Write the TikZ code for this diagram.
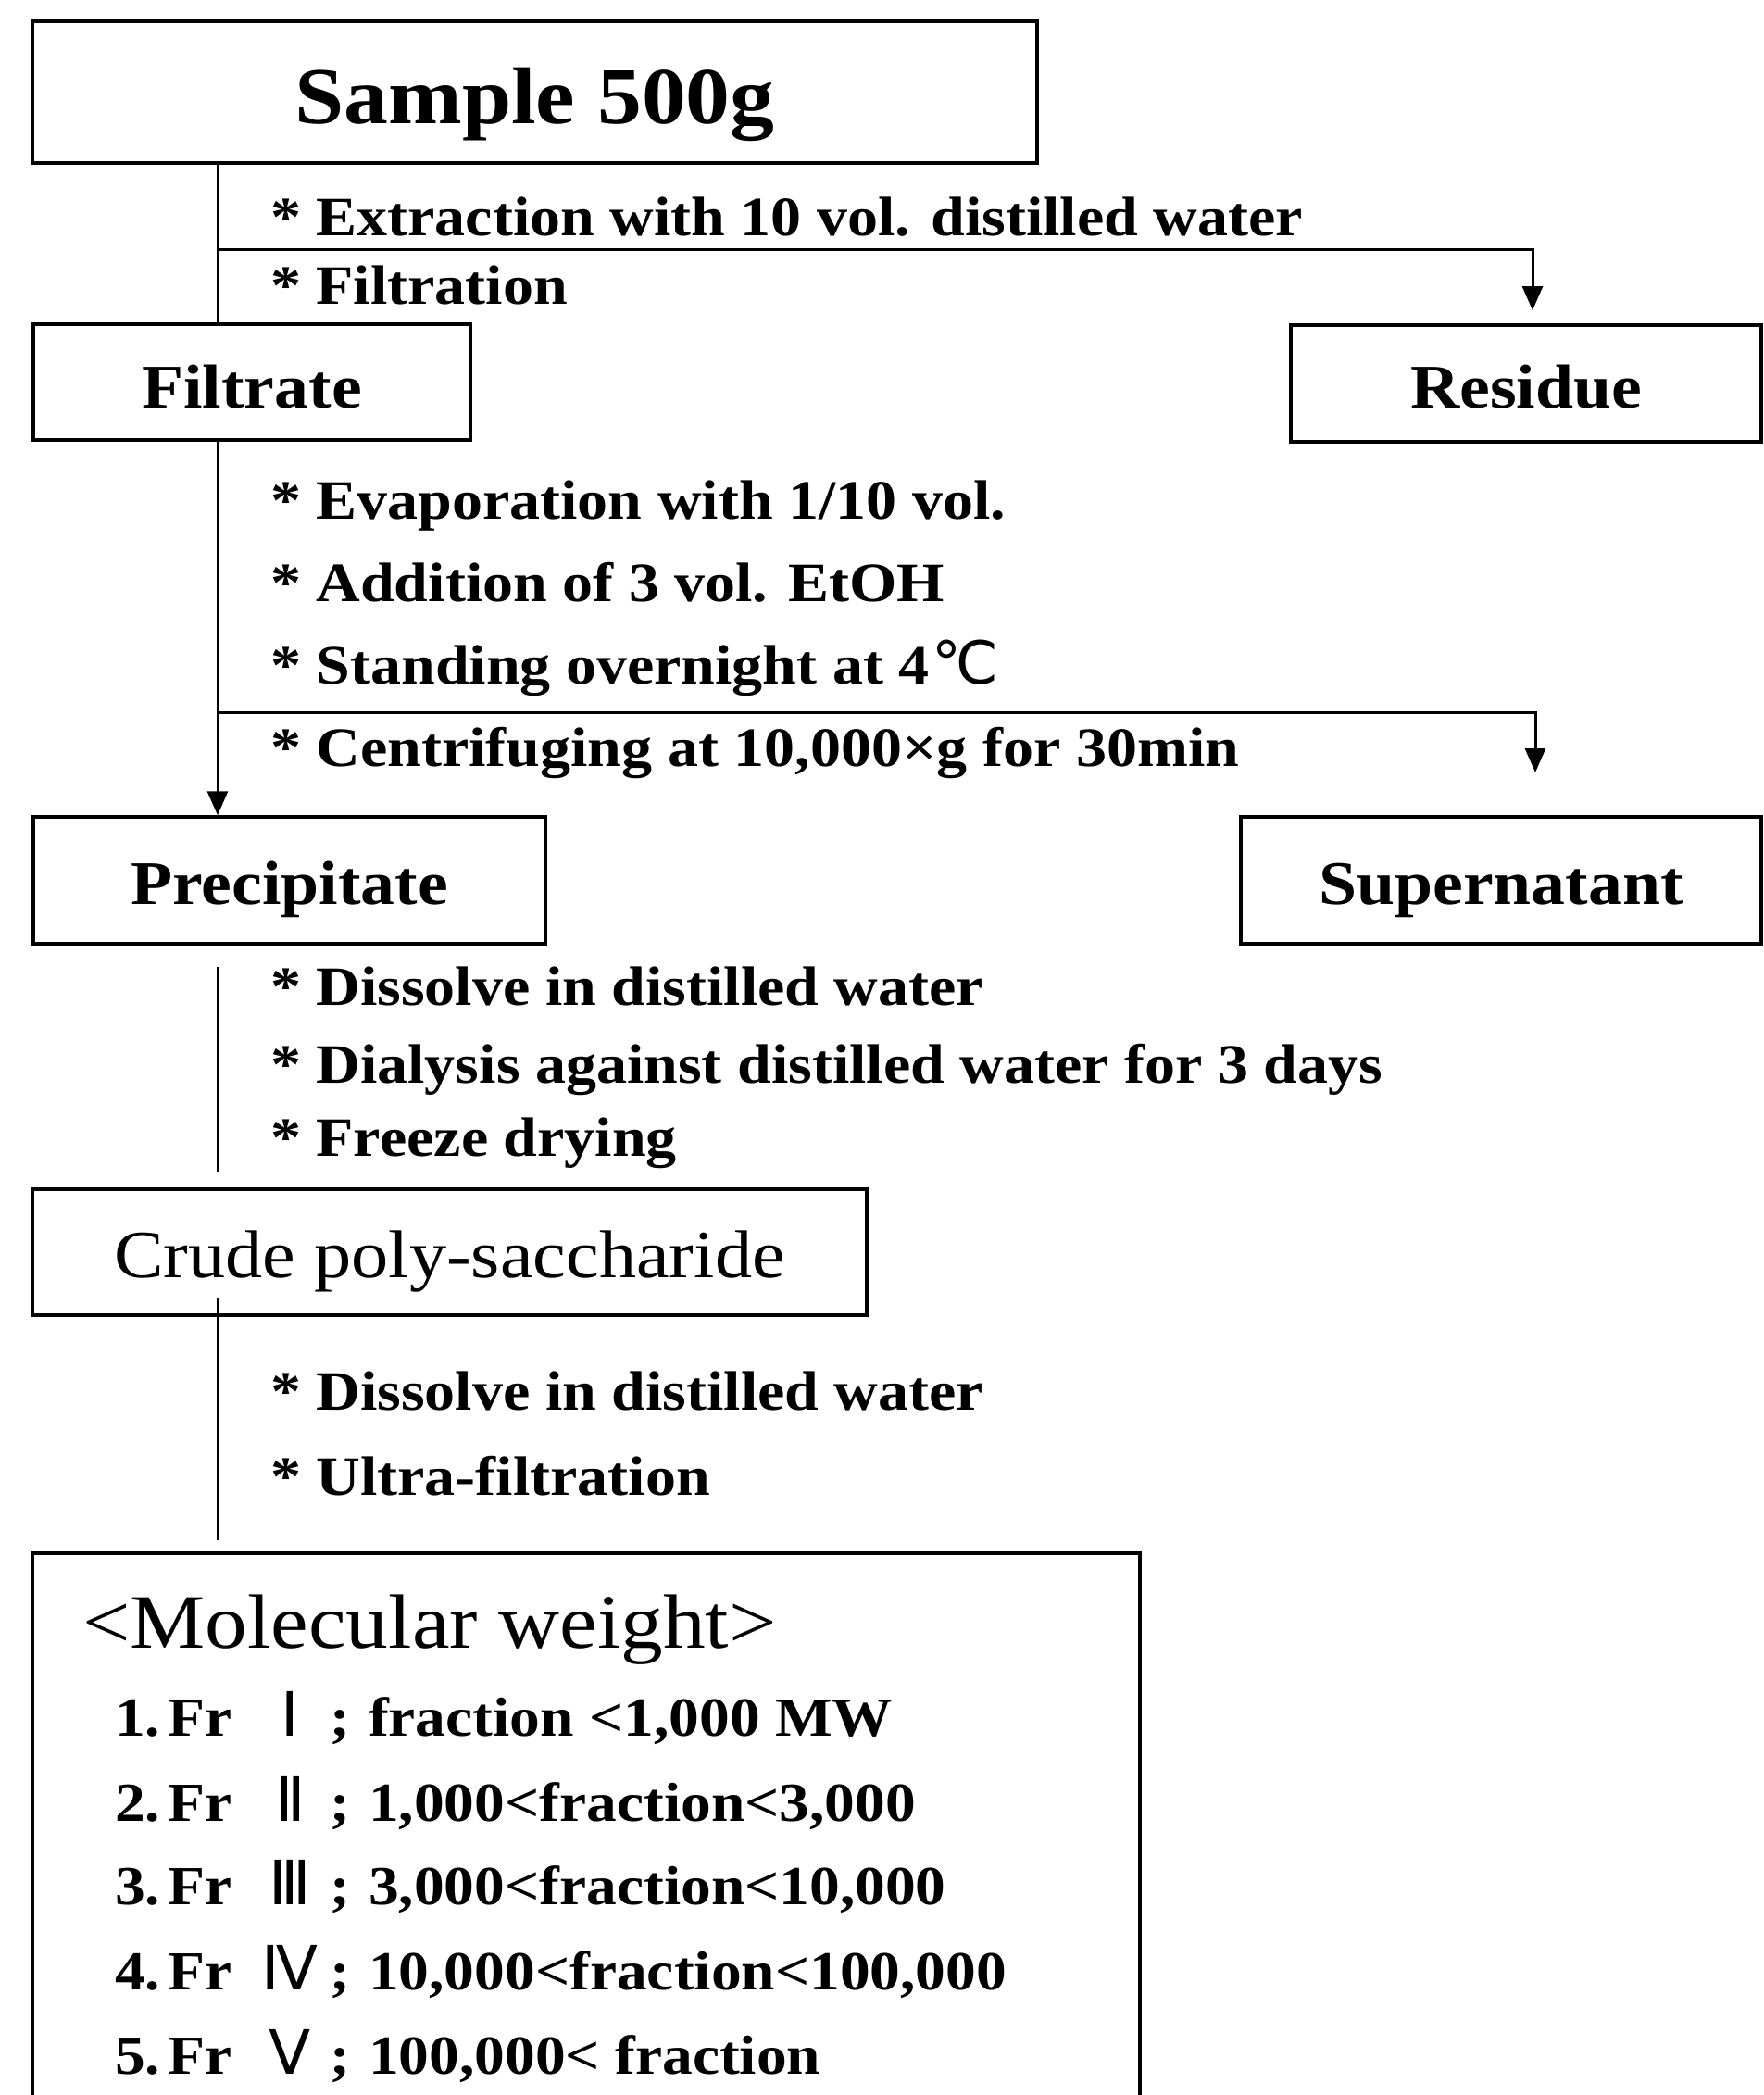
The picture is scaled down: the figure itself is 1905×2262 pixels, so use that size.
\documentclass[tikz,border=0pt]{standalone}
\usepackage{fontspec}
\setmainfont{Liberation Serif}[FakeStretch=1.1]
\newfontfamily\symb{DejaVu Sans}
\usetikzlibrary{arrows.meta}

% Roman numeral set in a fixed-width slot
\newcommand\rnum[1]{\hspace{32pt}\makebox[62pt][c]{\fontsize{66}{66}\selectfont\symb\mdseries #1}\hspace{12pt}}
\newcommand\degC{\hspace{3pt}{\fontsize{64}{64}\selectfont\symb\mdseries ℃}}

\tikzset{
  box/.style={draw, line width=3.5pt, inner sep=0pt, text depth=0pt},
  boxlabel/.style={box, font=\fontsize{67}{80}\selectfont\bfseries},
  flow/.style={line width=3pt},
  arr/.style={flow, -{Triangle[length=26pt,width=22pt]}},
  steptext/.style={anchor=base west, inner sep=0pt, font=\fontsize{60}{72}\selectfont\bfseries},
  mwitem/.style={anchor=base west, inner sep=0pt, font=\fontsize{59.5}{70}\selectfont\bfseries},
}

\begin{document}
\begin{tikzpicture}[x=1pt, y=-1pt]
\useasboundingbox (0,0) rectangle (1905,2262);
\clip (0,0) rectangle (1905,2262);
\fill[white] (0,0) rectangle (1905,2262);

% boxes
\node[box, font=\fontsize{87}{98}\selectfont\bfseries, minimum width=1085pt, minimum height=153pt, text height=67pt]
  (sample) at (577.5,99.5) {Sample 500g\hspace{50pt}};
\node[boxlabel, minimum width=472pt, minimum height=125pt, text height=55pt]
  (filtrate) at (272,412.5) {Filtrate};
\node[boxlabel, minimum width=508pt, minimum height=126pt, text height=52pt]
  (residue) at (1648,414) {Residue};
\node[boxlabel, minimum width=553pt, minimum height=137pt, text height=51pt]
  (precip) at (312.5,950.5) {Precipitate};
\node[boxlabel, minimum width=562pt, minimum height=137pt, text height=51pt]
  (super) at (1621,950.5) {Supernatant};
\node[box, font=\fontsize{73}{84}\selectfont, minimum width=901pt, minimum height=136pt, text height=54pt]
  (crude) at (485.5,1352) {Crude poly-saccharide};
\node[box, minimum width=1196pt, minimum height=640pt] (mw) at (633,1997) {};

% branch points on the main line
\coordinate (j1) at (235,269);
\coordinate (j2) at (235,769);
\coordinate (r1) at (1655,335);
\coordinate (s1) at (1658,834);

% connectors
\draw[flow] (sample.south -| j1) -- (filtrate.north -| j1);
\draw[arr] (j1) -| (r1);
\draw[arr] (filtrate.south -| j1) -- (precip.north -| j1);
\draw[arr] (j2) -| (s1);
\draw[flow, shorten <=23pt, shorten >=17pt] (precip.south -| j1) -- (crude.north -| j1);
\draw[flow, shorten <=-20pt, shorten >=12pt] (crude.south -| j1) -- (mw.north -| j1);

% process steps
\node[steptext] (st1) at (292,254) {* Extraction with 10 vol. distilled water};
\node[steptext] (st2) at (292,328) {* Filtration};
\node[steptext] (st3) at (292,560) {* Evaporation with 1/10 vol.};
\node[steptext] (st4) at (292,649) {* Addition of 3 vol. EtOH};
\node[steptext] (st5) at (292,738) {* Standing overnight at 4\degC};
\node[steptext] (st6) at (292,827) {* Centrifuging at 10,000×g for 30min};
\node[steptext] (st7) at (292,1085) {* Dissolve in distilled water};
\node[steptext] (st8) at (292,1169) {* Dialysis against distilled water for 3 days};
\node[steptext] (st9) at (292,1248) {* Freeze drying};
\node[steptext] (st10) at (292,1522) {* Dissolve in distilled water};
\node[steptext] (st11) at (292,1614) {* Ultra-filtration};

% molecular weight fractions
\node[anchor=base west, inner sep=0pt, font=\fontsize{83}{94}\selectfont] (mwt) at (89,1779) {<Molecular weight>};
\node[mwitem] (f1) at (124,1874) {1.\hspace{8pt}Fr\rnum{Ⅰ};\hspace{20pt}fraction <1,000 MW};
\node[mwitem] (f2) at (124,1966) {2.\hspace{8pt}Fr\rnum{Ⅱ};\hspace{20pt}1,000<fraction<3,000};
\node[mwitem] (f3) at (124,2056) {3.\hspace{8pt}Fr\rnum{Ⅲ};\hspace{20pt}3,000<fraction<10,000};
\node[mwitem] (f4) at (124,2148) {4.\hspace{8pt}Fr\rnum{Ⅳ};\hspace{20pt}10,000<fraction<100,000};
\node[mwitem] (f5) at (124,2239) {5.\hspace{8pt}Fr\rnum{Ⅴ};\hspace{20pt}100,000< fraction};
\end{tikzpicture}
\end{document}
